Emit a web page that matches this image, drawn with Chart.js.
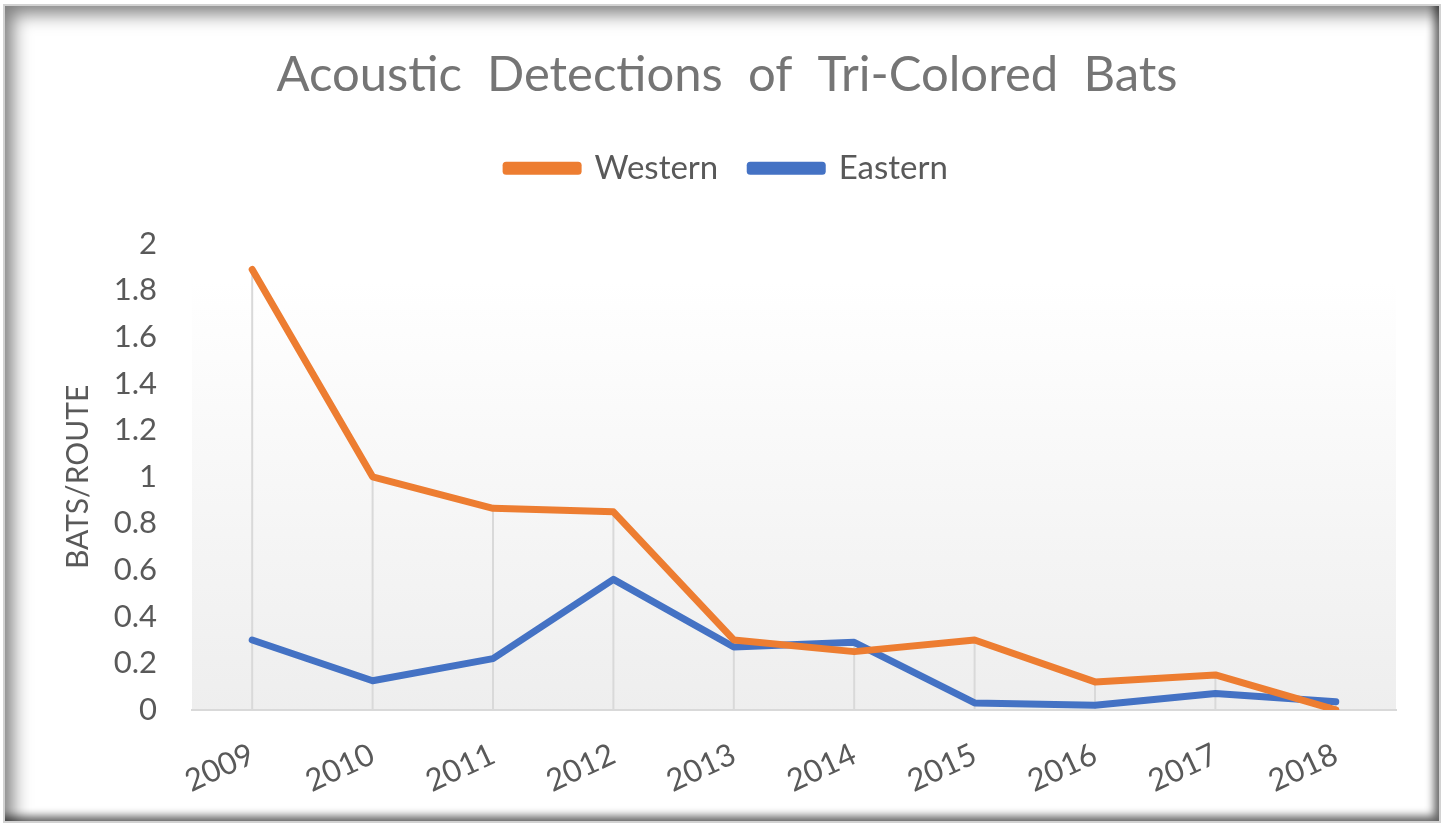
<!DOCTYPE html>
<html>
<head>
<meta charset="utf-8">
<script src="https://cdn.jsdelivr.net/npm/chart.js@4/dist/chart.umd.min.js"></script>
<style>
  html, body { margin: 0; padding: 0; background: #fff; }
  #wrap { position: relative; width: 1445px; height: 826px; overflow: hidden; }
  canvas { position: absolute; left: 0; top: 0; }
  .frame {
    position: absolute; left: 3px; top: 4px; width: 1438px; height: 819px;
    box-sizing: border-box; border: 2px solid #d2d2d2; pointer-events: none;
    box-shadow: inset 12px 12px 18px -4px rgba(0,0,0,0.5), inset -7px -7px 8px -2px rgba(0,0,0,0.6);
  }
</style>
</head>
<body>
<div id="wrap">
  <canvas id="myChart" width="1445" height="826"></canvas>
  <div class="frame"></div>
</div>
<script>
const years = ['2009', '2010', '2011', '2012', '2013', '2014', '2015', '2016', '2017', '2018'];
const western = [1.89, 1.0, 0.865, 0.85, 0.30, 0.25, 0.30, 0.12, 0.15, 0.0];
const eastern = [0.30, 0.125, 0.22, 0.56, 0.27, 0.29, 0.03, 0.02, 0.07, 0.035];

const fontFamily = 'Lato, "Open Sans", sans-serif';
const textGrey = '#595959';

// plot area fill, white at top fading to light grey
const plotBackground = {
  id: 'plotBackground',
  beforeDraw(chart) {
    const { ctx, chartArea: a } = chart;
    const g = ctx.createLinearGradient(0, a.top, 0, a.bottom);
    g.addColorStop(0, '#ffffff');
    g.addColorStop(0.08, '#ffffff');
    g.addColorStop(1, '#eeeeee');
    ctx.save();
    ctx.fillStyle = g;
    ctx.fillRect(a.left, a.top, a.right - a.left, a.bottom - a.top);
    ctx.restore();
  }
};

// drop lines from the highest point of each year down to the axis
const dropLines = {
  id: 'dropLines',
  beforeDatasetsDraw(chart) {
    const { ctx, scales: { x, y } } = chart;
    ctx.save();
    ctx.strokeStyle = '#d9d9d9';
    ctx.lineWidth = 2;
    years.forEach((yr, i) => {
      const top = Math.max(western[i], eastern[i]);
      const px = x.getPixelForValue(i);
      ctx.beginPath();
      ctx.moveTo(px, y.getPixelForValue(top));
      ctx.lineTo(px, y.getPixelForValue(0));
      ctx.stroke();
    });
    ctx.restore();
  }
};

// extra space under the legend
const legendGap = {
  id: 'legendGap',
  beforeInit(chart) {
    const fit = chart.legend.fit;
    chart.legend.fit = function () {
      fit.bind(chart.legend)();
      this.height += 49;
    };
  }
};

const ctx = document.getElementById('myChart').getContext('2d');
new Chart(ctx, {
  type: 'line',
  data: {
    labels: years,
    datasets: [
      { label: 'Western', data: western, borderColor: '#ED7D31', backgroundColor: '#ED7D31' },
      { label: 'Eastern', data: eastern, borderColor: '#4472C4', backgroundColor: '#4472C4' }
    ]
  },
  options: {
    responsive: false,
    devicePixelRatio: 1,
    animation: false,
    layout: { padding: { top: 46, left: 58, right: 49, bottom: 0 } },
    elements: {
      line: { borderWidth: 7, tension: 0, borderCapStyle: 'round', borderJoinStyle: 'round' },
      point: { radius: 0, hoverRadius: 0 }
    },
    plugins: {
      title: {
        display: true,
        text: 'Acoustic  Detections  of  Tri-Colored  Bats',
        color: '#757575',
        font: { family: fontFamily, size: 49, weight: 'normal' },
        padding: { top: 0, bottom: 15 }
      },
      legend: {
        display: true,
        labels: {
          color: textGrey,
          font: { family: fontFamily, size: 33 },
          boxWidth: 72,
          boxHeight: 6,
          padding: 32
        }
      },
      tooltip: { enabled: false }
    },
    scales: {
      x: {
        offset: true,
        grid: { display: false, drawTicks: false },
        border: { display: true, color: '#d9d9d9', width: 2 },
        ticks: {
          color: textGrey,
          font: { family: fontFamily, size: 31 },
          minRotation: 25,
          maxRotation: 25,
          padding: 26
        },
        afterFit(scale) {
          scale.paddingLeft = 0;
          scale.paddingRight = 0;
        }
      },
      y: {
        min: 0,
        max: 2,
        grid: { display: false, drawTicks: false },
        border: { display: false },
        ticks: {
          stepSize: 0.2,
          color: textGrey,
          font: { family: fontFamily, size: 31 },
          padding: 35,
          callback: v => String(Number(v.toFixed(1)))
        },
        title: {
          display: true,
          text: 'BATS/ROUTE',
          color: textGrey,
          font: { family: fontFamily, size: 30 },
          padding: { top: 2, bottom: 2 }
        },
        afterFit(scale) {
          scale.width = 134;
        }
      }
    }
  },
  plugins: [plotBackground, dropLines, legendGap]
});
</script>
</body>
</html>
